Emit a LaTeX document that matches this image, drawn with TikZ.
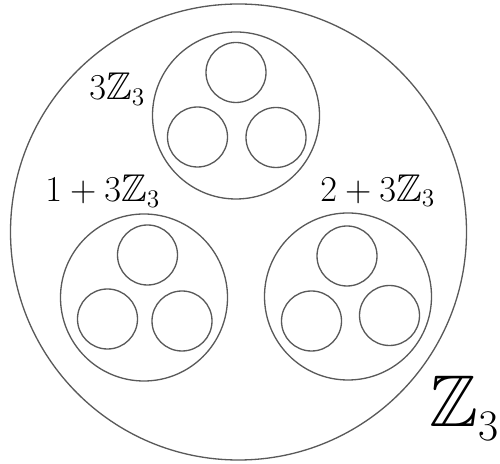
\documentclass[tikz,border=0pt]{standalone}
\usepackage{amsmath}
\usepackage{amssymb}
\usepackage{tikz}
\usetikzlibrary{calc}
\tikzset{
  ringnode/.style={circle, draw=black!65, line width=0.75pt, inner sep=0pt},
  bigring/.style={ringnode, minimum size=9.12cm},
  coset/.style={ringnode, minimum size=3.34cm},
  cell/.style={ringnode, minimum size=1.2cm},
  setlabel/.style={anchor=base west, inner sep=0pt, font=\fontsize{22}{26}\selectfont},
  biglabel/.style={anchor=base west, inner sep=0pt, font=\fontsize{41.7}{48}\selectfont},
}
\begin{document}
\begin{tikzpicture}
  \useasboundingbox (-4.77,-4.64) rectangle (5.23,4.64);
  \node (Z) [bigring] at (0,0) {};
  % the three cosets
  \node (c0) [coset] at (-0.05,2.33) {};
  \node (c1) [coset] at (-1.89,-1.31) {};
  \node (c2) [coset] at (2.19,-1.29) {};
  \node (c0a) [cell] at ($(c0)+(0,0.86)$) {};
  \node (c0b) [cell] at ($(c0)+(-0.77,-0.43)$) {};
  \node (c0c) [cell] at ($(c0)+(0.80,-0.44)$) {};
  \node (c1a) [cell] at ($(c1)+(0.07,0.85)$) {};
  \node (c1b) [cell] at ($(c1)+(-0.73,-0.43)$) {};
  \node (c1c) [cell] at ($(c1)+(0.76,-0.47)$) {};
  \node (c2a) [cell] at ($(c2)+(-0.02,0.81)$) {};
  \node (c2b) [cell] at ($(c2)+(-0.73,-0.49)$) {};
  \node (c2c) [cell] at ($(c2)+(0.83,-0.38)$) {};
  % labels
  \node (l0) [setlabel] at (-2.99,2.64) {$3\mathbb{Z}_3$};
  \node (l1) [setlabel] at (-3.87,0.60) {$1+3\mathbb{Z}_3$};
  \node (l2) [setlabel] at (1.63,0.61) {$2+3\mathbb{Z}_3$};
  \node (lZ) [biglabel] at (3.81,-3.90) {$\mathbb{Z}_3$};
\end{tikzpicture}
\end{document}
